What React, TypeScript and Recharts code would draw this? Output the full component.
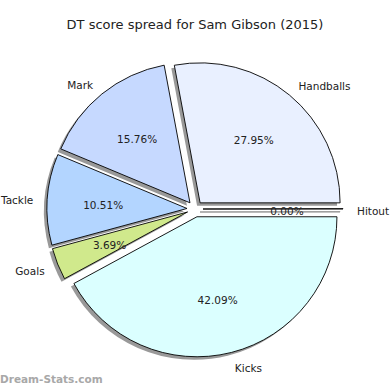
import React from "react";
import { PieChart, Pie, Cell } from "recharts";

// DT score share by stat type, counter-clockwise from 3 o'clock
const categories = ["Hitout", "Handballs", "Mark", "Tackle", "Goals", "Kicks"];
const shares = [0.0, 27.95, 15.76, 10.51, 3.69, 42.09];
const colors = ["#e9f0ff", "#e9f0ff", "#c6d9ff", "#b3d5ff", "#d0e98c", "#dbffff"];

const W = 390;
const H = 390;
const CX = 195;
const CY = 209;
const R = 140;
const EXPLODE = 8;
const SHADOW = { dx: -3, dy: 3 };
const FONT = "'DejaVu Sans', sans-serif";

const total = shares.reduce((s, v) => s + v, 0);

type Slice = { name: string; value: number; color: string; start: number; end: number; mid: number };

const slices: Slice[] = (() => {
  let a = 0;
  return categories.map((name, i) => {
    const span = (shares[i] / total) * 360;
    const start = a;
    a += span;
    // zero-share wedge still drawn as a line, like matplotlib
    const end = span === 0 ? start + 0.15 : a;
    return { name, value: shares[i], color: colors[i], start, end, mid: start + span / 2 };
  });
})();

const rad = (deg: number) => (deg * Math.PI) / 180;
const offset = (s: Slice) => ({
  x: CX + EXPLODE * Math.cos(rad(s.mid)),
  y: CY - EXPLODE * Math.sin(rad(s.mid)),
});

function makeLabel(s: Slice) {
  return (props: any) => {
    const { cx, cy, outerRadius } = props;
    const a = rad(s.mid);
    const lx = cx + outerRadius * 1.1 * Math.cos(a);
    const ly = cy - outerRadius * 1.1 * Math.sin(a) + 1.5;
    const px = cx + outerRadius * 0.6 * Math.cos(a);
    const py = cy - outerRadius * 0.6 * Math.sin(a) + 1.5;
    return (
      <g>
        <text
          x={lx}
          y={ly}
          textAnchor={Math.cos(a) >= 0 ? "start" : "end"}
          dominantBaseline="central"
          fontSize={10.5}
          fontFamily={FONT}
          fill="#222"
        >
          {s.name}
        </text>
        <text
          x={px}
          y={py}
          textAnchor="middle"
          dominantBaseline="central"
          fontSize={10.5}
          fontFamily={FONT}
          fill="#222"
        >
          {`${((s.value / total) * 100).toFixed(2)}%`}
        </text>
      </g>
    );
  };
}

export default function App() {
  return (
    <div style={{ position: "absolute", left: 0, top: 0, width: W, height: H, background: "#fff" }}>
      <PieChart width={W} height={H} margin={{ top: 0, right: 0, bottom: 0, left: 0 }}>
        {slices.map((s) => {
          const o = offset(s);
          return (
            <Pie
              key={`sh-${s.name}`}
              data={[s]}
              dataKey={() => 1}
              cx={o.x + SHADOW.dx}
              cy={o.y + SHADOW.dy}
              outerRadius={R}
              startAngle={s.start}
              endAngle={s.end}
              stroke={s.value === 0 ? "#999" : "none"}
              strokeWidth={1}
              fill="#999"
              isAnimationActive={false}
              label={false}
              labelLine={false}
            />
          );
        })}
        {slices.map((s) => {
          const o = offset(s);
          return (
            <Pie
              key={s.name}
              data={[s]}
              dataKey={() => 1}
              nameKey="name"
              cx={o.x}
              cy={o.y}
              outerRadius={R}
              startAngle={s.start}
              endAngle={s.end}
              stroke="#000"
              strokeWidth={0.9}
              isAnimationActive={false}
              label={makeLabel(s)}
              labelLine={false}
            >
              <Cell fill={s.color} />
            </Pie>
          );
        })}
      </PieChart>
      <div
        style={{
          position: "absolute",
          left: 0,
          top: 17,
          width: W,
          textAlign: "center",
          fontFamily: FONT,
          fontSize: 13,
          color: "#222",
        }}
      >
        DT score spread for Sam Gibson (2015)
      </div>
      <div
        style={{
          position: "absolute",
          left: 0,
          top: 373,
          fontFamily: FONT,
          fontSize: 10.5,
          fontWeight: "bold",
          color: "#a8a8a8",
        }}
      >
        Dream-Stats.com
      </div>
    </div>
  );
}
